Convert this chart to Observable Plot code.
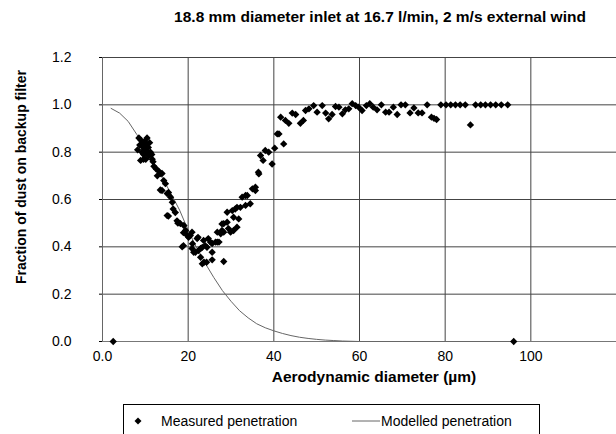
<!DOCTYPE html>
<html>
<head>
<meta charset="utf-8">
<script src="https://cdn.jsdelivr.net/npm/d3@7"></script>
<script src="https://cdn.jsdelivr.net/npm/@observablehq/plot@0.6"></script>
<style>
  body { margin: 0; background: #fff; font-family: "Liberation Sans", Arial, sans-serif; color: #000; }
  #wrap { position: relative; width: 616px; height: 434px; overflow: hidden; background: #fff; }
  #chart { position: absolute; left: 0; top: 0; }
  #title { position: absolute; top: 8px; left: 144px; right: 0; text-align: center; font-weight: bold; font-size: 15.5px; white-space: nowrap; }
  #xlabel { position: absolute; top: 368px; left: 132px; right: 0; text-align: center; font-weight: bold; font-size: 15.5px; white-space: nowrap; }
  #ylabel { position: absolute; left: 21px; top: 177px; transform: translate(-50%, -50%) rotate(-90deg); font-weight: bold; font-size: 14px; white-space: nowrap; }
  #legend { position: absolute; left: 123px; top: 404px; width: 415px; height: 50px; border: 1px solid #000; background: #fff; font-size: 14px; }
  .li { position: absolute; top: 8px; display: flex; align-items: center; white-space: nowrap; }
</style>
</head>
<body>
<div id="wrap">
  <div id="chart"></div>
  <div id="title"></div>
  <div id="xlabel"></div>
  <div id="ylabel"></div>
  <div id="legend"></div>
</div>
<script>
const titleText = "18.8 mm diameter inlet at 16.7 l/min, 2 m/s external wind";
const xLabelText = "Aerodynamic diameter (µm)";
const yLabelText = "Fraction of dust on backup filter";
const seriesNames = ["Measured penetration", "Modelled penetration"];

const xTicks = [0, 20, 40, 60, 80, 100, 120];
const yTicks = [0, 0.2, 0.4, 0.6, 0.8, 1.0, 1.2];

// Measured penetration
const measuredX = [
  2.5,
  8.2, 8.5, 8.7, 9.0, 9.2, 9.3, 9.5, 9.6, 9.8, 10.0, 10.1, 10.2, 10.4, 10.5, 10.7, 10.8, 11.0, 11.2, 11.5, 11.8, 8.9, 9.6, 12.0, 11.6,
  12.5, 12.8, 13.1, 13.5, 13.9, 14.3, 14.7, 13.9, 13.5, 15.1, 15.4, 15.9, 16.3, 15.1, 15.4, 16.5, 17.0, 17.4, 17.6, 18.2, 18.9, 19.0, 19.4, 19.8, 20.1, 20.5, 18.9, 18.6, 20.9, 20.9, 21.0,
  21.3, 21.7, 22.1, 22.3, 22.4, 22.9, 22.9, 23.3, 23.3, 23.6, 23.7, 24.0, 24.3, 24.4, 24.7, 25.2, 25.6, 25.6, 25.6, 26.4, 26.8, 27.2, 28.3,
  26.8, 27.6, 27.9, 27.9, 28.3, 28.3, 29.1, 29.4, 29.9, 30.6, 31.4, 29.1, 30.3, 30.6, 31.0, 31.8, 31.4, 32.2, 33.4, 34.5, 32.6, 33.4, 33.8, 35.0, 35.7, 35.7, 36.4, 36.5, 37.5, 36.9, 38.0, 38.8, 39.6, 40.2, 40.8, 41.2, 42.3,
  41.6, 42.7, 43.5, 44.3, 45.1, 46.2, 46.9, 47.4, 48.2, 49.3, 50.1, 51.3, 52.1, 52.8, 53.6, 54.4, 55.2, 56.0, 56.7, 57.5, 58.3, 59.1, 59.8, 60.6, 61.6, 62.4, 63.2, 64.1, 65.1, 66.1, 66.9, 67.9, 68.8, 69.7, 70.7, 71.8, 72.7, 73.7, 74.6, 75.8, 76.8, 77.4, 78.0,
  79.0, 80.2, 81.3, 82.4, 83.5, 84.7, 87.1, 88.3, 89.4, 90.6, 91.8, 93.1, 94.6,
  85.9, 96.0
];
const measuredY = [
  0,
  0.81, 0.86, 0.83, 0.85, 0.80, 0.835, 0.82, 0.79, 0.845, 0.81, 0.77, 0.83, 0.86, 0.80, 0.82, 0.785, 0.84, 0.80, 0.79, 0.76, 0.765, 0.77, 0.74, 0.77,
  0.73, 0.70, 0.72, 0.71, 0.71, 0.68, 0.667, 0.638, 0.64, 0.625, 0.63, 0.61, 0.588, 0.532, 0.53, 0.56, 0.545, 0.51, 0.50, 0.498, 0.46, 0.49, 0.469, 0.448, 0.44, 0.448, 0.405, 0.40, 0.462, 0.393, 0.413,
  0.377, 0.377, 0.435, 0.44, 0.384, 0.393, 0.356, 0.398, 0.328, 0.427, 0.335, 0.405, 0.335, 0.398, 0.435, 0.42, 0.414, 0.377, 0.345, 0.42, 0.42, 0.42, 0.338,
  0.462, 0.455, 0.469, 0.497, 0.462, 0.498, 0.504, 0.477, 0.462, 0.469, 0.483, 0.546, 0.553, 0.525, 0.56, 0.518, 0.567, 0.567, 0.575, 0.582, 0.61, 0.617, 0.617, 0.645, 0.652, 0.638, 0.715, 0.708, 0.765, 0.786, 0.807, 0.80, 0.75, 0.817, 0.877, 0.877, 0.835,
  0.948, 0.934, 0.922, 0.965, 0.959, 0.922, 0.934, 0.976, 0.983, 0.997, 0.969, 0.997, 0.965, 0.941, 0.959, 0.993, 0.99, 0.962, 0.979, 0.983, 1.005, 0.997, 0.99, 0.976, 0.997, 1.005, 0.99, 0.979, 1.0, 0.969, 0.969, 0.99, 0.959, 1.0, 1.0, 0.966, 0.987, 0.966, 0.966, 1.0, 0.948, 0.943, 0.938,
  1.0, 1.0, 1.0, 1.0, 1.0, 1.0, 1.0, 1.0, 1.0, 1.0, 1.0, 1.0, 1.0,
  0.915, 0
];

// Modelled penetration
const modelX = [2, 4, 6, 8, 10, 12, 14, 16, 18, 20, 22, 24, 26, 28, 30, 32, 34, 36, 38, 40, 42, 44, 46, 48, 50, 52, 54, 56, 58, 60, 70, 80, 90, 96];
const modelY = [0.985, 0.965, 0.93, 0.875, 0.815, 0.755, 0.69, 0.625, 0.555, 0.47, 0.395, 0.33, 0.27, 0.215, 0.17, 0.13, 0.10, 0.075, 0.058, 0.045, 0.034, 0.025, 0.018, 0.013, 0.009, 0.006, 0.004, 0.002, 0.001, 0, 0, 0, 0, 0];

const measured = measuredX.map((x, i) => ({x, y: measuredY[i]}));
const model = modelX.map((x, i) => ({x, y: modelY[i]}));

const chart = Plot.plot({
  width: 616,
  height: 434,
  marginLeft: 102,
  marginRight: 0,
  marginTop: 57,
  marginBottom: 93,
  style: {fontFamily: "Liberation Sans, Arial, sans-serif", fontSize: "14px", color: "#000", background: "#fff", overflow: "visible"},
  x: {domain: [0, 120], label: null},
  y: {domain: [0, 1.2], label: null},
  marks: [
    Plot.gridX(xTicks, {stroke: "#444", strokeOpacity: 1}),
    Plot.gridY(yTicks, {stroke: "#444", strokeOpacity: 1}),
    Plot.ruleX([0], {stroke: "#666"}),
    Plot.ruleY([0], {stroke: "#777"}),
    Plot.axisX(xTicks, {tickSize: 0, tickPadding: 10, label: null, fontSize: 14,
      tickFormat: d => d === 0 ? "0.0" : d === 120 ? "" : String(d)}),
    Plot.axisY(yTicks, {tickSize: 3, tickPadding: 28, label: null, fontSize: 14, tickFormat: d3.format(".1f")}),
    Plot.line(model, {x: "x", y: "y", stroke: "#666", strokeWidth: 1}),
    Plot.dot(measured, {x: "x", y: "y", symbol: "diamond2", r: 3.3, fill: "#000", stroke: null})
  ]
});
document.getElementById("chart").append(chart);
document.getElementById("title").textContent = titleText;
document.getElementById("xlabel").textContent = xLabelText;
document.getElementById("ylabel").textContent = yLabelText;

const legend = document.getElementById("legend");
legend.innerHTML = `
  <div class="li" style="left:9px"><svg width="10" height="10" style="margin-right:18px"><path d="M5,1.5L8.5,5L5,8.5L1.5,5Z" fill="#000"/></svg><span>${seriesNames[0]}</span></div>
  <div class="li" style="left:228px"><svg width="28" height="10" style="margin-right:1px"><line x1="0" x2="28" y1="5" y2="5" stroke="#666" stroke-width="1"/></svg><span>${seriesNames[1]}</span></div>`;
</script>
</body>
</html>
